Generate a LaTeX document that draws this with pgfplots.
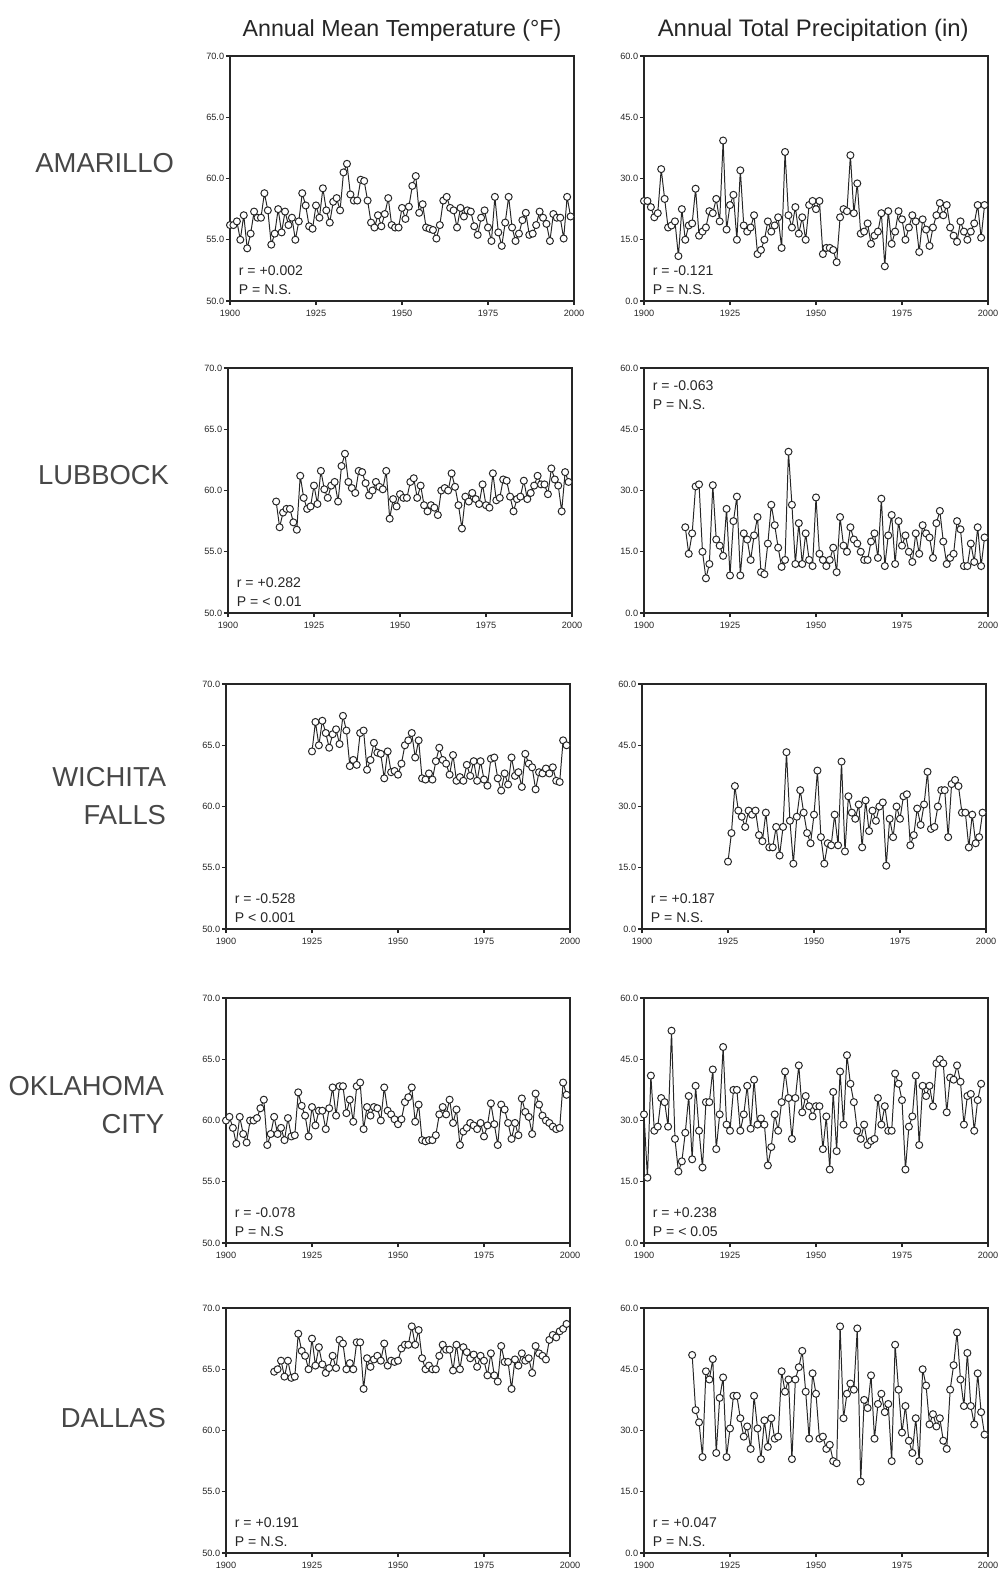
\documentclass[border=0pt]{standalone}
\usepackage{fontspec}
\setmainfont{Liberation Sans}
\usepackage{pgfplots}
\usepackage{pgfplotstable}
\pgfplotsset{compat=1.18}

% Amarillo
\pgfplotstableread[row sep=\\]{
yr v\\
1900 56.2\\ 1901 56.2\\ 1902 56.5\\ 1903 55.0\\ 1904 57.0\\ 1905 54.3\\ 1906 55.5\\ 1907 57.3\\ 1908 56.8\\ 1909 56.8\\
1910 58.8\\ 1911 57.4\\ 1912 54.6\\ 1913 55.5\\ 1914 57.5\\ 1915 55.6\\ 1916 57.3\\ 1917 56.2\\ 1918 56.8\\ 1919 55.0\\
1920 56.5\\ 1921 58.8\\ 1922 57.8\\ 1923 56.1\\ 1924 55.9\\ 1925 57.8\\ 1926 56.8\\ 1927 59.2\\ 1928 57.4\\ 1929 56.4\\
1930 58.1\\ 1931 58.4\\ 1932 57.4\\ 1933 60.5\\ 1934 61.2\\ 1935 58.7\\ 1936 58.2\\ 1937 58.2\\ 1938 59.9\\ 1939 59.8\\
1940 58.2\\ 1941 56.4\\ 1942 56.0\\ 1943 57.0\\ 1944 56.1\\ 1945 57.1\\ 1946 58.4\\ 1947 56.2\\ 1948 56.0\\ 1949 56.0\\
1950 57.6\\ 1951 56.7\\ 1952 57.7\\ 1953 59.4\\ 1954 60.2\\ 1955 57.2\\ 1956 57.9\\ 1957 56.0\\ 1958 55.9\\ 1959 55.8\\
1960 55.1\\ 1961 56.2\\ 1962 58.2\\ 1963 58.5\\ 1964 57.6\\ 1965 57.4\\ 1966 56.0\\ 1967 57.6\\ 1968 56.9\\ 1969 57.4\\
1970 57.3\\ 1971 56.1\\ 1972 55.4\\ 1973 56.8\\ 1974 57.4\\ 1975 56.0\\ 1976 54.9\\ 1977 58.5\\ 1978 55.6\\ 1979 54.5\\
1980 56.4\\ 1981 58.5\\ 1982 56.0\\ 1983 54.9\\ 1984 55.5\\ 1985 56.6\\ 1986 57.2\\ 1987 55.4\\ 1988 55.5\\ 1989 56.2\\
1990 57.3\\ 1991 56.8\\ 1992 56.3\\ 1993 54.9\\ 1994 57.1\\ 1995 56.8\\ 1996 56.8\\ 1997 55.1\\ 1998 58.5\\ 1999 56.9\\
}\amaT
\pgfplotstableread[row sep=\\]{
yr v\\
1900 24.5\\ 1901 24.5\\ 1902 23.0\\ 1903 20.5\\ 1904 21.5\\ 1905 32.3\\ 1906 25.0\\ 1907 18.0\\ 1908 18.5\\ 1909 19.5\\
1910 11.0\\ 1911 22.5\\ 1912 15.0\\ 1913 18.5\\ 1914 19.0\\ 1915 27.5\\ 1916 16.0\\ 1917 17.0\\ 1918 18.0\\ 1919 22.0\\
1920 21.5\\ 1921 25.0\\ 1922 19.5\\ 1923 39.3\\ 1924 17.5\\ 1925 23.5\\ 1926 26.0\\ 1927 15.0\\ 1928 32.0\\ 1929 18.5\\
1930 17.0\\ 1931 18.0\\ 1932 21.0\\ 1933 11.5\\ 1934 12.5\\ 1935 15.0\\ 1936 19.5\\ 1937 17.0\\ 1938 18.5\\ 1939 20.5\\
1940 13.0\\ 1941 36.5\\ 1942 21.0\\ 1943 18.0\\ 1944 23.0\\ 1945 16.5\\ 1946 20.5\\ 1947 15.0\\ 1948 23.5\\ 1949 24.5\\
1950 22.5\\ 1951 24.5\\ 1952 11.5\\ 1953 13.0\\ 1954 13.0\\ 1955 12.5\\ 1956 9.5\\ 1957 20.5\\ 1958 22.5\\ 1959 22.0\\
1960 35.7\\ 1961 21.5\\ 1962 28.8\\ 1963 16.5\\ 1964 17.0\\ 1965 19.0\\ 1966 14.0\\ 1967 16.0\\ 1968 17.0\\ 1969 21.5\\
1970 8.5\\ 1971 22.0\\ 1972 14.0\\ 1973 17.0\\ 1974 22.0\\ 1975 20.0\\ 1976 15.0\\ 1977 18.0\\ 1978 21.0\\ 1979 19.5\\
1980 12.0\\ 1981 20.0\\ 1982 17.5\\ 1983 13.5\\ 1984 18.0\\ 1985 21.0\\ 1986 24.0\\ 1987 21.0\\ 1988 23.5\\ 1989 18.0\\
1990 16.0\\ 1991 14.5\\ 1992 19.5\\ 1993 17.0\\ 1994 15.0\\ 1995 17.0\\ 1996 19.0\\ 1997 23.5\\ 1998 15.5\\ 1999 23.5\\
}\amaP

% Lubbock
\pgfplotstableread[row sep=\\]{
yr v\\
1914 59.1\\ 1915 57.0\\ 1916 58.2\\ 1917 58.5\\ 1918 58.5\\ 1919 57.4\\
1920 56.8\\ 1921 61.2\\ 1922 59.4\\ 1923 58.5\\ 1924 58.7\\ 1925 60.4\\ 1926 58.9\\ 1927 61.6\\ 1928 60.1\\ 1929 59.4\\
1930 60.4\\ 1931 60.7\\ 1932 59.1\\ 1933 62.0\\ 1934 63.0\\ 1935 60.7\\ 1936 60.2\\ 1937 59.8\\ 1938 61.6\\ 1939 61.5\\
1940 60.6\\ 1941 59.6\\ 1942 60.0\\ 1943 60.7\\ 1944 60.3\\ 1945 60.1\\ 1946 61.6\\ 1947 57.7\\ 1948 59.3\\ 1949 58.7\\
1950 59.7\\ 1951 59.4\\ 1952 59.4\\ 1953 60.7\\ 1954 61.0\\ 1955 59.4\\ 1956 60.4\\ 1957 58.8\\ 1958 58.3\\ 1959 58.8\\
1960 58.6\\ 1961 58.0\\ 1962 60.0\\ 1963 60.2\\ 1964 60.0\\ 1965 61.4\\ 1966 60.3\\ 1967 58.8\\ 1968 56.9\\ 1969 59.5\\
1970 59.1\\ 1971 59.8\\ 1972 59.3\\ 1973 58.9\\ 1974 60.5\\ 1975 58.8\\ 1976 58.6\\ 1977 61.4\\ 1978 59.2\\ 1979 59.4\\
1980 60.9\\ 1981 60.8\\ 1982 59.5\\ 1983 58.3\\ 1984 59.3\\ 1985 59.5\\ 1986 60.8\\ 1987 59.3\\ 1988 59.8\\ 1989 60.4\\
1990 61.2\\ 1991 60.5\\ 1992 60.5\\ 1993 59.7\\ 1994 61.8\\ 1995 60.9\\ 1996 60.4\\ 1997 58.3\\ 1998 61.5\\ 1999 60.7\\
}\lubT
\pgfplotstableread[row sep=\\]{
yr v\\
1912 21.0\\ 1913 14.5\\ 1914 19.5\\ 1915 31.0\\ 1916 31.5\\ 1917 15.0\\ 1918 8.5\\ 1919 12.0\\ 1920 31.3\\ 1921 18.0\\
1922 16.5\\ 1923 14.0\\ 1924 25.5\\ 1925 9.2\\ 1926 22.5\\ 1927 28.5\\ 1928 9.2\\ 1929 19.5\\ 1930 18.0\\ 1931 13.0\\
1932 19.0\\ 1933 23.5\\ 1934 10.0\\ 1935 9.5\\ 1936 17.0\\ 1937 26.5\\ 1938 21.5\\ 1939 16.0\\ 1940 11.3\\ 1941 13.0\\
1942 39.5\\ 1943 26.5\\ 1944 12.0\\ 1945 22.0\\ 1946 12.0\\ 1947 19.5\\ 1948 13.0\\ 1949 11.5\\ 1950 28.3\\ 1951 14.5\\
1952 13.0\\ 1953 11.5\\ 1954 13.0\\ 1955 16.0\\ 1956 10.0\\ 1957 23.5\\ 1958 16.5\\ 1959 15.0\\ 1960 21.0\\ 1961 18.0\\
1962 17.0\\ 1963 15.0\\ 1964 13.0\\ 1965 13.0\\ 1966 17.5\\ 1967 19.5\\ 1968 13.5\\ 1969 28.0\\ 1970 11.5\\ 1971 19.0\\
1972 24.0\\ 1973 12.0\\ 1974 22.5\\ 1975 16.5\\ 1976 19.0\\ 1977 15.0\\ 1978 12.5\\ 1979 19.5\\ 1980 14.5\\ 1981 21.5\\
1982 19.5\\ 1983 18.5\\ 1984 13.5\\ 1985 22.0\\ 1986 25.0\\ 1987 17.5\\ 1988 12.0\\ 1989 13.5\\ 1990 14.5\\ 1991 22.5\\
1992 20.5\\ 1993 11.5\\ 1994 11.5\\ 1995 17.0\\ 1996 12.5\\ 1997 21.0\\ 1998 11.5\\ 1999 18.5\\
}\lubP

% Wichita Falls
\pgfplotstableread[row sep=\\]{
yr v\\
1925 64.5\\ 1926 66.9\\ 1927 65.0\\ 1928 67.0\\ 1929 66.0\\
1930 64.8\\ 1931 65.9\\ 1932 66.3\\ 1933 65.1\\ 1934 67.4\\ 1935 66.2\\ 1936 63.3\\ 1937 63.8\\ 1938 63.4\\ 1939 66.0\\
1940 66.2\\ 1941 63.0\\ 1942 63.8\\ 1943 65.2\\ 1944 64.4\\ 1945 64.3\\ 1946 62.3\\ 1947 64.5\\ 1948 62.8\\ 1949 62.9\\
1950 62.6\\ 1951 63.5\\ 1952 65.0\\ 1953 65.4\\ 1954 66.0\\ 1955 64.0\\ 1956 65.4\\ 1957 62.3\\ 1958 62.2\\ 1959 62.7\\
1960 62.2\\ 1961 63.7\\ 1962 64.8\\ 1963 63.8\\ 1964 63.5\\ 1965 62.6\\ 1966 64.2\\ 1967 62.1\\ 1968 62.4\\ 1969 62.1\\
1970 63.4\\ 1971 62.5\\ 1972 63.7\\ 1973 62.1\\ 1974 63.7\\ 1975 62.2\\ 1976 61.7\\ 1977 63.9\\ 1978 64.0\\ 1979 62.3\\
1980 61.3\\ 1981 62.7\\ 1982 61.8\\ 1983 64.0\\ 1984 62.5\\ 1985 62.8\\ 1986 61.6\\ 1987 64.3\\ 1988 63.5\\ 1989 63.2\\
1990 61.4\\ 1991 62.8\\ 1992 62.7\\ 1993 63.1\\ 1994 62.7\\ 1995 63.2\\ 1996 62.1\\ 1997 62.0\\ 1998 65.4\\ 1999 65.0\\
}\wfT
\pgfplotstableread[row sep=\\]{
yr v\\
1925 16.5\\ 1926 23.5\\ 1927 35.0\\ 1928 29.0\\ 1929 27.5\\
1930 25.0\\ 1931 29.0\\ 1932 28.0\\ 1933 29.0\\ 1934 23.0\\ 1935 21.5\\ 1936 28.5\\ 1937 20.0\\ 1938 20.0\\ 1939 25.0\\
1940 18.0\\ 1941 25.0\\ 1942 43.3\\ 1943 26.5\\ 1944 16.0\\ 1945 27.5\\ 1946 34.0\\ 1947 28.5\\ 1948 23.5\\ 1949 21.0\\
1950 28.0\\ 1951 38.8\\ 1952 22.5\\ 1953 16.0\\ 1954 21.0\\ 1955 20.5\\ 1956 28.0\\ 1957 20.5\\ 1958 41.0\\ 1959 19.0\\
1960 32.5\\ 1961 28.5\\ 1962 27.0\\ 1963 30.5\\ 1964 20.0\\ 1965 31.5\\ 1966 24.0\\ 1967 29.0\\ 1968 26.5\\ 1969 30.0\\
1970 31.0\\ 1971 15.5\\ 1972 27.0\\ 1973 22.5\\ 1974 30.0\\ 1975 27.0\\ 1976 32.5\\ 1977 33.0\\ 1978 20.5\\ 1979 23.0\\
1980 29.5\\ 1981 25.5\\ 1982 30.5\\ 1983 38.5\\ 1984 24.5\\ 1985 25.0\\ 1986 30.0\\ 1987 34.0\\ 1988 34.0\\ 1989 22.5\\
1990 35.5\\ 1991 36.5\\ 1992 35.0\\ 1993 28.5\\ 1994 28.5\\ 1995 20.0\\ 1996 28.0\\ 1997 21.0\\ 1998 22.5\\ 1999 28.5\\
}\wfP

% Oklahoma City
\pgfplotstableread[row sep=\\]{
yr v\\
1900 60.0\\ 1901 60.3\\ 1902 59.4\\ 1903 58.1\\ 1904 60.3\\ 1905 58.9\\ 1906 58.2\\ 1907 60.0\\ 1908 60.0\\ 1909 60.2\\
1910 61.0\\ 1911 61.7\\ 1912 58.0\\ 1913 58.9\\ 1914 60.3\\ 1915 58.9\\ 1916 59.4\\ 1917 58.4\\ 1918 60.2\\ 1919 58.7\\
1920 58.8\\ 1921 62.3\\ 1922 61.2\\ 1923 60.4\\ 1924 58.7\\ 1925 61.1\\ 1926 59.6\\ 1927 60.8\\ 1928 60.8\\ 1929 59.3\\
1930 61.0\\ 1931 62.7\\ 1932 60.4\\ 1933 62.8\\ 1934 62.8\\ 1935 60.6\\ 1936 61.7\\ 1937 59.9\\ 1938 62.8\\ 1939 63.1\\
1940 59.3\\ 1941 61.1\\ 1942 60.4\\ 1943 61.1\\ 1944 61.0\\ 1945 60.0\\ 1946 62.7\\ 1947 60.8\\ 1948 60.5\\ 1949 60.1\\
1950 59.7\\ 1951 60.1\\ 1952 61.5\\ 1953 61.9\\ 1954 62.7\\ 1955 59.9\\ 1956 61.3\\ 1957 58.4\\ 1958 58.3\\ 1959 58.4\\
1960 58.4\\ 1961 58.8\\ 1962 60.5\\ 1963 61.1\\ 1964 60.5\\ 1965 61.7\\ 1966 59.8\\ 1967 60.9\\ 1968 58.0\\ 1969 59.1\\
1970 59.4\\ 1971 59.8\\ 1972 59.6\\ 1973 59.3\\ 1974 59.8\\ 1975 58.7\\ 1976 59.6\\ 1977 61.4\\ 1978 59.7\\ 1979 58.0\\
1980 61.3\\ 1981 60.9\\ 1982 59.8\\ 1983 58.5\\ 1984 59.8\\ 1985 58.8\\ 1986 61.8\\ 1987 60.7\\ 1988 60.3\\ 1989 58.9\\
1990 62.2\\ 1991 61.3\\ 1992 60.4\\ 1993 60.0\\ 1994 59.8\\ 1995 59.5\\ 1996 59.3\\ 1997 59.4\\ 1998 63.1\\ 1999 62.1\\
}\okcT
\pgfplotstableread[row sep=\\]{
yr v\\
1900 31.5\\ 1901 16.0\\ 1902 41.0\\ 1903 27.5\\ 1904 28.5\\ 1905 35.5\\ 1906 34.5\\ 1907 28.5\\ 1908 52.0\\ 1909 25.5\\
1910 17.5\\ 1911 20.0\\ 1912 27.0\\ 1913 36.0\\ 1914 20.5\\ 1915 38.5\\ 1916 27.5\\ 1917 18.5\\ 1918 34.5\\ 1919 34.5\\
1920 42.5\\ 1921 23.0\\ 1922 31.5\\ 1923 48.0\\ 1924 29.0\\ 1925 27.5\\ 1926 37.5\\ 1927 37.5\\ 1928 27.5\\ 1929 31.5\\
1930 38.5\\ 1931 28.0\\ 1932 40.0\\ 1933 29.0\\ 1934 30.5\\ 1935 29.0\\ 1936 19.0\\ 1937 23.5\\ 1938 31.5\\ 1939 27.5\\
1940 34.5\\ 1941 42.0\\ 1942 35.5\\ 1943 25.5\\ 1944 35.5\\ 1945 43.5\\ 1946 32.0\\ 1947 36.0\\ 1948 33.5\\ 1949 31.0\\
1950 33.5\\ 1951 33.5\\ 1952 23.0\\ 1953 31.0\\ 1954 18.0\\ 1955 37.0\\ 1956 22.5\\ 1957 42.0\\ 1958 29.0\\ 1959 46.0\\
1960 39.0\\ 1961 34.5\\ 1962 27.5\\ 1963 25.5\\ 1964 29.0\\ 1965 24.0\\ 1966 25.0\\ 1967 25.5\\ 1968 35.5\\ 1969 29.0\\
1970 33.5\\ 1971 27.5\\ 1972 27.5\\ 1973 41.5\\ 1974 39.0\\ 1975 35.0\\ 1976 18.0\\ 1977 28.5\\ 1978 31.0\\ 1979 41.0\\
1980 24.0\\ 1981 38.5\\ 1982 36.0\\ 1983 38.5\\ 1984 33.5\\ 1985 44.0\\ 1986 45.0\\ 1987 44.0\\ 1988 32.0\\ 1989 40.5\\
1990 40.0\\ 1991 43.5\\ 1992 39.5\\ 1993 29.0\\ 1994 36.0\\ 1995 36.5\\ 1996 27.5\\ 1997 35.0\\ 1998 39.0\\
}\okcP

% Dallas
\pgfplotstableread[row sep=\\]{
yr v\\
1914 64.8\\ 1915 65.0\\ 1916 65.7\\ 1917 64.4\\ 1918 65.7\\ 1919 64.3\\
1920 64.4\\ 1921 67.9\\ 1922 66.5\\ 1923 66.1\\ 1924 65.0\\ 1925 67.5\\ 1926 65.3\\ 1927 66.8\\ 1928 65.4\\ 1929 64.7\\
1930 65.1\\ 1931 66.1\\ 1932 65.1\\ 1933 67.4\\ 1934 67.1\\ 1935 65.0\\ 1936 65.5\\ 1937 65.0\\ 1938 67.2\\ 1939 67.2\\
1940 63.4\\ 1941 65.9\\ 1942 65.2\\ 1943 65.8\\ 1944 66.1\\ 1945 65.7\\ 1946 67.1\\ 1947 65.3\\ 1948 65.7\\ 1949 65.6\\
1950 65.7\\ 1951 66.7\\ 1952 67.0\\ 1953 67.0\\ 1954 68.5\\ 1955 67.0\\ 1956 68.2\\ 1957 65.9\\ 1958 65.0\\ 1959 65.3\\
1960 65.0\\ 1961 65.0\\ 1962 66.1\\ 1963 67.0\\ 1964 66.6\\ 1965 66.6\\ 1966 64.9\\ 1967 67.0\\ 1968 65.0\\ 1969 66.8\\
1970 66.4\\ 1971 65.9\\ 1972 66.2\\ 1973 65.2\\ 1974 66.1\\ 1975 65.7\\ 1976 64.5\\ 1977 66.3\\ 1978 64.5\\ 1979 64.0\\
1980 66.9\\ 1981 65.6\\ 1982 65.6\\ 1983 63.4\\ 1984 65.8\\ 1985 65.3\\ 1986 66.3\\ 1987 65.7\\ 1988 65.9\\ 1989 64.7\\
1990 66.9\\ 1991 66.3\\ 1992 66.1\\ 1993 65.8\\ 1994 67.4\\ 1995 67.8\\ 1996 67.6\\ 1997 68.1\\ 1998 68.3\\ 1999 68.7\\
}\dalT
\pgfplotstableread[row sep=\\]{
yr v\\
1914 48.5\\ 1915 35.0\\ 1916 32.0\\ 1917 23.5\\ 1918 44.5\\ 1919 42.5\\
1920 47.5\\ 1921 24.5\\ 1922 38.0\\ 1923 43.0\\ 1924 23.5\\ 1925 30.5\\ 1926 38.5\\ 1927 38.5\\ 1928 33.0\\ 1929 28.5\\
1930 31.0\\ 1931 25.5\\ 1932 38.5\\ 1933 30.5\\ 1934 23.0\\ 1935 32.5\\ 1936 26.0\\ 1937 33.0\\ 1938 28.0\\ 1939 28.5\\
1940 44.5\\ 1941 39.5\\ 1942 42.5\\ 1943 23.0\\ 1944 42.5\\ 1945 45.5\\ 1946 49.5\\ 1947 39.5\\ 1948 28.0\\ 1949 44.0\\
1950 39.0\\ 1951 28.0\\ 1952 28.5\\ 1953 25.5\\ 1954 26.5\\ 1955 22.5\\ 1956 22.0\\ 1957 55.5\\ 1958 33.0\\ 1959 39.0\\
1960 41.5\\ 1961 40.0\\ 1962 55.0\\ 1963 17.5\\ 1964 37.5\\ 1965 35.5\\ 1966 43.5\\ 1967 28.0\\ 1968 36.5\\ 1969 39.0\\
1970 34.5\\ 1971 36.5\\ 1972 22.5\\ 1973 51.0\\ 1974 40.0\\ 1975 29.5\\ 1976 36.0\\ 1977 27.5\\ 1978 24.5\\ 1979 33.0\\
1980 22.5\\ 1981 45.0\\ 1982 41.0\\ 1983 31.5\\ 1984 34.0\\ 1985 31.0\\ 1986 33.0\\ 1987 27.5\\ 1988 25.5\\ 1989 40.0\\
1990 46.0\\ 1991 54.0\\ 1992 42.5\\ 1993 36.0\\ 1994 49.0\\ 1995 36.0\\ 1996 31.5\\ 1997 44.0\\ 1998 34.5\\ 1999 29.0\\
}\dalP

\definecolor{ink}{gray}{0.15}

\pgfplotsset{
  panel/.style={
    scale only axis, width=8.6cm, height=6.125cm, anchor=south west,
    xmin=1900, xmax=2000,
    xtick={1900,1925,1950,1975,2000},
    xticklabels={1900,1925,1950,1975,2000},
    xtick pos=left, ytick pos=left, tick align=outside,
    major tick length=3pt,
    axis line style={ink, line width=1.1pt},
    tick style={ink, line width=0.8pt},
    tick label style={font=\fontsize{6.5}{7.5}\selectfont, text=ink},
    yticklabel style={inner xsep=0pt, xshift=-1pt},
    clip=false,
  },
  temp/.style={panel, ymin=50, ymax=70, ytick={50,55,60,65,70},
    yticklabels={50.0,55.0,60.0,65.0,70.0}},
  prec/.style={panel, ymin=0, ymax=60, ytick={0,15,30,45,60},
    yticklabels={0.0,15.0,30.0,45.0,60.0}},
  series/.style={ink, line width=0.7pt, mark=*, mark size=2.5pt,
    mark options={fill=white, draw=ink, line width=0.7pt}},
}
\tikzset{
  stat/.style={anchor=south west, align=left, inner sep=0pt, text=ink,
    font=\fontsize{10}{13.5}\selectfont},
}

\begin{document}
\begin{tikzpicture}
\path[use as bounding box] (0,0) rectangle (24.975,-39.45);

\node[text=ink, font=\fontsize{16.5}{18}\selectfont] at (10.05,-0.75) {Annual  Mean Temperature (°F)};
\node[text=ink, font=\fontsize{17}{18}\selectfont] at (20.33,-0.75) {Annual  Total  Precipitation  (in)};

\begin{scope}[every node/.style={anchor=east, align=right, text=black!72,
  font=\fontsize{19.5}{27}\selectfont}]
\node at (4.475,-4.075) {AMARILLO};
\node at (4.35,-11.875) {LUBBOCK};
\node at (4.275,-19.9) {WICHITA\\FALLS};
\node at (4.225,-27.625) {OKLAHOMA\\CITY};
\node at (4.275,-35.45) {DALLAS};
\end{scope}

% row 1
\begin{axis}[temp, at={(5.75cm,-7.525cm)}]
\addplot[series] table[x=yr, y=v] {\amaT};
\node[stat] at (rel axis cs:0.025,0.025) {r = +0.002\\P = N.S.};
\end{axis}
\begin{axis}[prec, at={(16.1cm,-7.525cm)}]
\addplot[series] table[x=yr, y=v] {\amaP};
\node[stat] at (rel axis cs:0.025,0.025) {r = -0.121\\P = N.S.};
\end{axis}

% row 2
\begin{axis}[temp, at={(5.7cm,-15.325cm)}]
\addplot[series] table[x=yr, y=v] {\lubT};
\node[stat] at (rel axis cs:0.025,0.025) {r = +0.282\\P = < 0.01};
\end{axis}
\begin{axis}[prec, at={(16.1cm,-15.325cm)}]
\addplot[series] table[x=yr, y=v] {\lubP};
\node[stat, anchor=north west] at (rel axis cs:0.025,0.95) {r = -0.063\\P = N.S.};
\end{axis}

% row 3
\begin{axis}[temp, at={(5.65cm,-23.225cm)}]
\addplot[series] table[x=yr, y=v] {\wfT};
\node[stat] at (rel axis cs:0.025,0.025) {r = -0.528\\P < 0.001};
\end{axis}
\begin{axis}[prec, at={(16.05cm,-23.225cm)}]
\addplot[series] table[x=yr, y=v] {\wfP};
\node[stat] at (rel axis cs:0.025,0.025) {r = +0.187\\P = N.S.};
\end{axis}

% row 4
\begin{axis}[temp, at={(5.65cm,-31.075cm)}]
\addplot[series] table[x=yr, y=v] {\okcT};
\node[stat] at (rel axis cs:0.025,0.025) {r = -0.078\\P = N.S};
\end{axis}
\begin{axis}[prec, at={(16.1cm,-31.075cm)}]
\addplot[series] table[x=yr, y=v] {\okcP};
\node[stat] at (rel axis cs:0.025,0.025) {r = +0.238\\P = < 0.05};
\end{axis}

% row 5
\begin{axis}[temp, at={(5.65cm,-38.825cm)}]
\addplot[series] table[x=yr, y=v] {\dalT};
\node[stat] at (rel axis cs:0.025,0.025) {r = +0.191\\P = N.S.};
\end{axis}
\begin{axis}[prec, at={(16.1cm,-38.825cm)}]
\addplot[series] table[x=yr, y=v] {\dalP};
\node[stat] at (rel axis cs:0.025,0.025) {r = +0.047\\P = N.S.};
\end{axis}
\end{tikzpicture}
\end{document}
